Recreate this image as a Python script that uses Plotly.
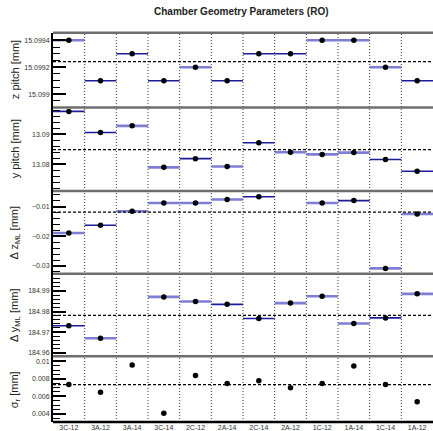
import plotly.graph_objects as go

categories = ["3C-12", "3A-12", "3A-14", "3C-14", "2C-12", "2A-14",
              "2C-14", "2A-12", "1C-12", "1A-14", "1C-14", "1A-12"]

z_pitch = [15.0994, 15.0991, 15.0993, 15.0991, 15.0992, 15.0991,
           15.0993, 15.0993, 15.0994, 15.0994, 15.0992, 15.0991]
y_pitch = [13.0976, 13.0906, 13.0928, 13.0790, 13.0819, 13.0793,
           13.0872, 13.0840, 13.0833, 13.0839, 13.0816, 13.0777]
delta_z = [-0.0189, -0.0163, -0.0116, -0.0088, -0.0088, -0.0076,
           -0.0067, None, -0.0088, -0.0080, -0.0308, -0.0125]
delta_y = [184.9731, 184.9670, None, 184.9871, 184.9849, 184.9835,
           184.9766, 184.9841, 184.9874, 184.9742, 184.9769, 184.9886]
sigma_r = [0.00736, 0.00646, 0.00958, 0.00408, 0.00837, 0.00747,
           0.00778, 0.00699, 0.00747, 0.00947, 0.00736, 0.00537]

mean_z_pitch = 15.099242
mean_y_pitch = 13.0849
mean_delta_z = -0.0119
mean_delta_y = 184.9781
mean_sigma_r = 0.00733

# which horizontal bars are drawn in the lighter blue
light_z = [1, 0, 0, 0, 1, 0, 0, 0, 1, 1, 1, 0]
light_y = [0, 0, 1, 1, 0, 1, 0, 1, 1, 1, 0, 0]
light_dz = [1, 0, 1, 1, 1, 1, 0, 0, 1, 0, 1, 1]
light_dy = [0, 1, 0, 1, 1, 0, 0, 1, 1, 1, 0, 1]

z_ticks = [15.099, 15.0992, 15.0994]
z_ticktext = ["15.099", "15.0992", "15.0994"]
y_ticks = [13.08, 13.09]
y_ticktext = ["13.08", "13.09"]
dz_ticks = [-0.03, -0.02, -0.01]
dz_ticktext = ["\u22120.03", "\u22120.02", "\u22120.01"]
dy_ticks = [184.96, 184.97, 184.98, 184.99]
dy_ticktext = ["184.96", "184.97", "184.98", "184.99"]
s_ticks = [0.004, 0.006, 0.008, 0.01]
s_ticktext = ["0.004", "0.006", "0.008", "0.01"]

W, H = 433, 431
X0 = 53
# panel pixel bounds (top, bottom)
panels_px = [(33, 108), (108, 192), (192, 275), (275, 358), (358, 424)]


def py(p):
    return 1 - p / H


FONT = "Liberation Sans, Arial, sans-serif"
fig = go.Figure()

panels = [
    dict(vals=z_pitch, light=light_z, mean=mean_z_pitch, rng=[15.0989015, 15.099455],
         tv=z_ticks, tt=z_ticktext, minor=0.00005, title="z pitch [mm]"),
    dict(vals=y_pitch, light=light_y, mean=mean_y_pitch, rng=[13.0711, 13.0989],
         tv=y_ticks, tt=y_ticktext, minor=0.002, title="y pitch [mm]"),
    dict(vals=delta_z, light=light_dz, mean=mean_delta_z, rng=[-0.0326, -0.0048],
         tv=dz_ticks, tt=dz_ticktext, minor=0.002, title="\u0394 z<sub>ML</sub> [mm]"),
    dict(vals=delta_y, light=light_dy, mean=mean_delta_y, rng=[184.95822, 184.99838],
         tv=dy_ticks, tt=dy_ticktext, minor=0.002, title="\u0394 y<sub>ML</sub> [mm]"),
    dict(vals=sigma_r, light=None, mean=mean_sigma_r, rng=[0.003067, 0.010562],
         tv=s_ticks, tt=s_ticktext, minor=0.0005, title="\u03c3<sub>r</sub> [mm]"),
]

shapes = []
annotations = []
for i, p in enumerate(panels):
    k = i + 1
    yname = "y" if k == 1 else f"y{k}"
    idx = [j for j, v in enumerate(p["vals"]) if v is not None]
    if p["light"] is not None:
        for flag, col, th in [(0, "#1c1c9a", 1.6), (1, "#7e7ed4", 2.6)]:
            sel = [j for j in idx if p["light"][j] == flag]
            fig.add_trace(go.Scatter(
                x=sel, y=[p["vals"][j] for j in sel], mode="markers",
                marker=dict(size=1, color="rgba(0,0,0,0)"),
                error_x=dict(type="constant", value=0.5, width=0, thickness=th, color=col),
                xaxis="x", yaxis=yname, showlegend=False, hoverinfo="skip"))
    fig.add_trace(go.Scatter(
        x=idx, y=[p["vals"][j] for j in idx], mode="markers",
        marker=dict(size=5.5, color="black"),
        xaxis="x", yaxis=yname, showlegend=False))

    top, bot = panels_px[i]
    layout_key = "yaxis" if k == 1 else f"yaxis{k}"
    fig.layout[layout_key] = dict(
        domain=[py(bot), py(top)], anchor="x", range=p["rng"],
        tickvals=p["tv"], ticktext=p["tt"], ticks="inside", ticklen=13,
        tickwidth=1.5, tickcolor="black",
        minor=dict(dtick=p["minor"], ticks="inside", ticklen=7, tickwidth=1.2,
                   tickcolor="black", showgrid=False),
        showline=True, linecolor="black", linewidth=2,
        showgrid=False, zeroline=False,
        tickfont=dict(family=FONT, size=7, color="#333"))
    # mean dashed line
    shapes.append(dict(type="line", xref="paper", yref=yname,
                       x0=X0 / W, x1=1, y0=p["mean"], y1=p["mean"],
                       line=dict(color="black", width=1.2, dash="3px,2px")))
    # panel top separator
    shapes.append(dict(type="line", xref="paper", yref="paper",
                       x0=X0 / W, x1=1, y0=py(top), y1=py(top),
                       line=dict(color="#6e6e6e", width=2.5)))
    annotations.append(dict(text=p["title"], xref="paper", yref="paper",
                            x=15 / W, y=py((top + bot) / 2), textangle=-90,
                            showarrow=False, xanchor="center", yanchor="middle",
                            font=dict(family=FONT, size=11, color="#222")))

# bottom axis line
shapes.append(dict(type="line", xref="paper", yref="paper",
                   x0=X0 / W, x1=1, y0=py(424), y1=py(424),
                   line=dict(color="black", width=2.5)))
# vertical dotted grid lines at category boundaries
for b in range(1, len(categories)):
    shapes.append(dict(type="line", xref="x", yref="paper",
                       x0=b - 0.5, x1=b - 0.5, y0=py(424), y1=py(33),
                       line=dict(color="#333", width=1, dash="1px,2px"), layer="below"))

annotations.append(dict(text="<b>Chamber Geometry Parameters (RO)</b>",
                        xref="paper", yref="paper", x=241 / W, y=py(12),
                        showarrow=False, xanchor="center", yanchor="middle",
                        font=dict(family=FONT, size=10, color="#222")))

fig.update_layout(
    width=W, height=H, autosize=False,
    margin=dict(l=0, r=0, t=0, b=0),
    paper_bgcolor="white", plot_bgcolor="white",
    xaxis=dict(domain=[X0 / W, 1], anchor="y5", range=[-0.5, 11.5],
               tickvals=list(range(len(categories))), ticktext=categories,
               ticks="", showline=False, showgrid=False, zeroline=False,
               tickfont=dict(family=FONT, size=7, color="#333")),
    shapes=shapes, annotations=annotations,
)

fig.write_html("out.html")
